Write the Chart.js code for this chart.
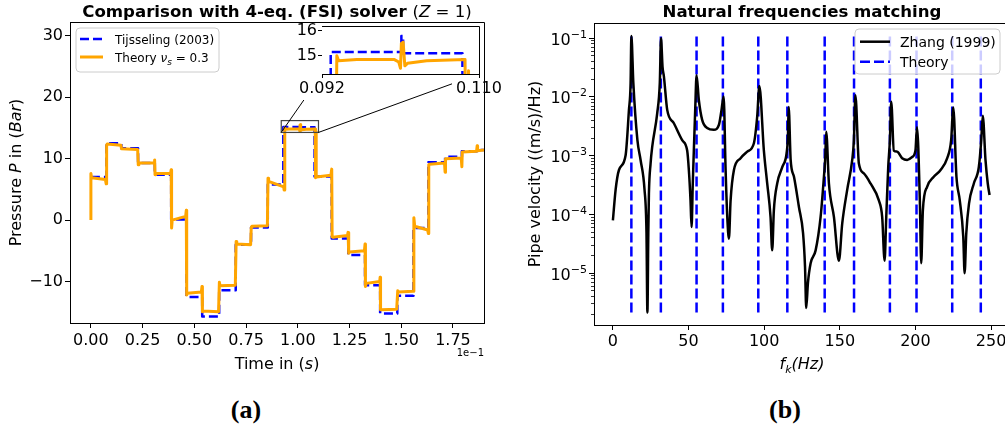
<!DOCTYPE html>
<html>
<head>
<meta charset="utf-8">
<script src="https://cdn.jsdelivr.net/npm/chart.js"></script>
<style>
  body { margin: 0; background: #fff; width: 1005px; height: 430px; overflow: hidden; position: relative; }
  canvas { position: absolute; }
  #pressure { left: 0; top: 0; }
  #zoomed { left: 280px; top: 0; }
  #velocity { left: 500px; top: 0; }
  .cap { position: absolute; top: 395px; width: 100px; text-align: center; line-height: 26px;
         font: bold 26px "Liberation Serif"; color: #000; }
</style>
</head>
<body>
<canvas id="pressure" width="500" height="380"></canvas>
<canvas id="velocity" width="520" height="380"></canvas>
<canvas id="zoomed" width="230" height="110"></canvas>
<div class="cap" style="left:196px">(a)</div>
<div class="cap" style="left:735px">(b)</div>
<script>
// ---- (a) pressure history, time in s ----
const tijTime = [0, 0.0075, 0.0147, 0.0228, 0.0309, 0.0388, 0.0462, 0.0538, 0.0620,
  0.0700, 0.0774, 0.0855, 0.0930, 0.1011, 0.1013, 0.1081, 0.1164, 0.1244, 0.1325,
  0.1398, 0.1481, 0.1559, 0.1631, 0.1712, 0.1793, 0.1866];
const tijP = [7.0, 12.5, 11.7, 9.3, 7.4, 0.1, -12.5, -15.7, -11.4,
  -4.0, -1.2, 5.8, 15.15, 15.8, 15.1, 7.1, -3.0, -5.7, -10.6,
  -15.2, -12.3, -1.3, 9.4, 10.3, 11.2, 11.4];
const tijEnd = 0.19;

const theoryT = [
  0.0000, 0.0000, 0.0003, 0.0070, 0.0074, 0.0076, 0.0079, 0.0145,
  0.0148, 0.0226, 0.0229, 0.0232, 0.0306, 0.0308, 0.0310, 0.0313,
  0.0385, 0.0388, 0.0390, 0.0393, 0.0458, 0.0461, 0.0463, 0.0466,
  0.0534, 0.0537, 0.0539, 0.0542, 0.0617, 0.0621, 0.0624, 0.0698,
  0.0702, 0.0705, 0.0772, 0.0775, 0.0778, 0.0853, 0.0856, 0.0859,
  0.0932, 0.0934, 0.0937, 0.0939, 0.0960, 0.1003, 0.1008, 0.1010,
  0.1011, 0.1013, 0.1015, 0.1018, 0.1040, 0.1084, 0.1086, 0.1088,
  0.1089, 0.1160, 0.1164, 0.1166, 0.1170, 0.1240, 0.1243, 0.1246,
  0.1250, 0.1322, 0.1325, 0.1327, 0.1330, 0.1396, 0.1398, 0.1400,
  0.1403, 0.1478, 0.1483, 0.1486, 0.1557, 0.1561, 0.1565, 0.1628,
  0.1631, 0.1633, 0.1637, 0.1709, 0.1712, 0.1714, 0.1717, 0.1790,
  0.1793, 0.1795, 0.1864, 0.1867, 0.1869, 0.1900];
const theoryP = [
  0.0, 7.6, 6.9, 6.6, 5.9, 12.2, 12.4, 12.2,
  11.6, 11.5, 9.0, 9.3, 9.3, 9.8, 7.4, 7.6,
  7.6, 8.2, -1.3, 0.0, 0.6, 1.6, -12.2, -11.9,
  -11.7, -10.8, -14.9, -14.8, -14.9, -10.1, -10.7, -10.6,
  -3.5, -3.9, -4.0, -1.2, -1.0, -0.9, 6.8, 6.3,
  5.4, 4.9, 15.0, 14.8, 14.85, 14.85, 14.75, 14.5,
  15.5, 15.55, 14.6, 14.7, 14.8, 14.85, 6.9, 14.4,
  7.0, 7.3, 8.3, -2.7, -2.8, -2.5, -2.0, -5.4,
  -5.2, -5.0, -3.9, -10.8, -10.3, -10.0, -9.3, -14.6,
  -14.6, -14.5, -11.5, -11.7, -11.6, 0.4, -1.0, -1.6,
  -2.2, 9.0, 9.1, 9.3, 7.8, 10.0, 10.0, 10.1,
  8.7, 11.1, 11.2, 12.1, 11.3, 11.4];

const timeTicks = [0, 0.025, 0.05, 0.075, 0.1, 0.125, 0.15, 0.175];
const pressTicks = [-10, 0, 10, 20, 30];
const zoomTimes = [0.092, 0.110];
const zoomPress = [15, 16];

// ---- (b) frequency response ----
const zhangFreq = [
  0, 1.8, 4.0, 8.4, 10.6, 11.7, 12.2,
  13.5, 16.2, 18.3, 20.9, 22.2, 22.8, 23.4, 23.8, 24.9, 26.0, 29.3, 31.0, 31.8,
  32.8, 33.7, 35.9, 40.3, 45.8, 49.1, 50.2, 51.3, 52.0, 52.8, 53.5, 54.4, 55.3,
  56.8, 59.0, 62.3, 66.7, 70.1, 71.8, 73.2,
  74.5, 75.6, 76.7, 77.8, 80.0, 84.4, 88.8, 93.2, 95.4, 96.8,
  99.8, 102.0, 104.2, 105.3, 106.4, 108.6, 112.0, 114.8, 115.7, 116.2,
  117.5, 119.7, 123.0, 125.7, 127.0, 127.8, 128.9, 130.7, 134.0, 137.3, 139.5, 140.4, 141.0,
  142.8, 146.1, 149.4, 151.6, 154.9, 158.2, 159.3, 160.3,
  162.6, 165.9, 170.3, 175.8, 178.0, 179.6, 180.7, 182.0, 183.1, 184.0,
  185.7, 187.9, 191.2, 194.5, 197.8, 200.0, 201.0,
  202.9, 203.8, 204.9, 207.7, 212.1, 216.6, 221.0, 223.6, 225.0,
  227.1, 229.3, 231.6, 232.5, 233.6, 235.4, 238.6, 241.9, 243.5, 244.5,
  246.3, 247.8, 249.0];
const zhangVel = [
  7.8e-5, 2.6e-4, 5.6e-4, 1.0e-3, 5.9e-3, 1.7e-2, 1.07e-1,
  1.7e-2, 1.8e-3, 8.3e-4, 2.6e-4, 4.7e-5, 2.1e-6, 4.7e-5, 2.2e-4, 7.2e-4, 1.4e-3, 5.2e-3, 1.7e-2, 9.8e-2,
  3.2e-2, 2.2e-2, 5.9e-3, 3.5e-3, 1.8e-3, 1.2e-3, 5.6e-4, 1.7e-4, 6.0e-5, 3.3e-4, 1.2e-3, 5.9e-3, 2.3e-2,
  8.7e-3, 4.0e-3, 2.9e-3, 2.7e-3, 3.3e-3, 5.9e-3, 1.0e-2,
  5.6e-4, 8.9e-5, 3.8e-5, 1.7e-4, 5.6e-4, 8.9e-4, 1.15e-3, 1.6e-3, 4.6e-3, 1.5e-2,
  1.2e-3, 3.3e-4, 8.9e-5, 2.4e-5, 1.15e-4, 3.3e-4, 6.3e-4, 1.07e-3, 2.1e-3, 6.6e-3,
  8.3e-4, 4.3e-4, 1.3e-4, 4.7e-5, 1.26e-5, 2.5e-6, 6.6e-6, 1.45e-5, 2.4e-5, 8.9e-5, 4.3e-4, 9.3e-4, 2.5e-3,
  3.3e-4, 8.9e-5, 1.6e-5, 6.9e-5, 2.6e-4, 8.3e-4, 1.8e-3, 1.05e-2,
  7.2e-4, 4.9e-4, 3.3e-4, 1.7e-4, 8.9e-5, 1.6e-5, 8.9e-5, 6.3e-4, 1.8e-3, 8.1e-3,
  1.2e-3, 1.15e-3, 8.9e-4, 8.3e-4, 9.3e-4, 1.2e-3, 3.0e-3,
  1.7e-4, 1.45e-5, 1.15e-4, 2.9e-4, 4.3e-4, 5.6e-4, 8.9e-4, 1.8e-3, 6.5e-3,
  4.3e-4, 1.7e-4, 4.1e-5, 9.8e-6, 4.7e-5, 1.5e-4, 3.3e-4, 6.3e-4, 1.8e-3, 4.7e-3,
  8.3e-4, 3.3e-4, 2.1e-4];
const theoryFreq = [12.2, 31.7, 55.3, 72.7, 96.1, 115.3, 140.0, 159.4, 183.1, 200.7, 224.3, 243.2];
const freqTicks = [0, 50, 100, 150, 200, 250];

const FAM = "'DejaVu Sans'";
const f = (s, st) => (st ? st + ' ' : '') + s + 'px ' + FAM;

// draw text made of several font runs
function rich(ctx, parts, x, y, align) {
  let w = 0;
  parts.forEach(p => { ctx.font = p[1]; w += ctx.measureText(p[0]).width; });
  let cx = align === 'center' ? x - w / 2 : align === 'right' ? x - w : x;
  ctx.textAlign = 'left';
  ctx.textBaseline = 'alphabetic';
  parts.forEach(p => {
    ctx.font = p[1];
    ctx.fillText(p[0], cx, y + (p[2] || 0));
    cx += ctx.measureText(p[0]).width;
  });
}
function vrich(ctx, parts, x, y) {
  ctx.save();
  ctx.translate(x, y);
  ctx.rotate(-Math.PI / 2);
  rich(ctx, parts, 0, 0, 'center');
  ctx.restore();
}
function frame(ctx, a) {
  ctx.save();
  ctx.strokeStyle = '#000';
  ctx.lineWidth = 1;
  ctx.beginPath();
  ctx.moveTo(Math.round(a.left), Math.round(a.top) + 0.5);
  ctx.lineTo(Math.round(a.right) + 0.5, Math.round(a.top) + 0.5);
  ctx.lineTo(Math.round(a.right) + 0.5, Math.round(a.bottom));
  ctx.stroke();
  ctx.restore();
}
function legend(ctx, box, rows) {
  ctx.save();
  const [x0, y0, x1, y1] = box, r = 4;
  ctx.beginPath();
  ctx.moveTo(x0 + r, y0);
  ctx.arcTo(x1, y0, x1, y1, r);
  ctx.arcTo(x1, y1, x0, y1, r);
  ctx.arcTo(x0, y1, x0, y0, r);
  ctx.arcTo(x0, y0, x1, y0, r);
  ctx.closePath();
  ctx.fillStyle = 'rgba(255,255,255,0.8)';
  ctx.fill();
  ctx.strokeStyle = '#cccccc';
  ctx.lineWidth = 1;
  ctx.stroke();
  rows.forEach(row => {
    ctx.beginPath();
    ctx.setLineDash(row.dash || []);
    ctx.strokeStyle = row.color;
    ctx.lineWidth = row.width;
    ctx.moveTo(row.x0, row.y);
    ctx.lineTo(row.x1, row.y);
    ctx.stroke();
    ctx.setLineDash([]);
    ctx.fillStyle = '#000';
    rich(ctx, row.text, row.tx, row.y + 5, 'left');
  });
  ctx.restore();
}

function stepPoints(times, levels, end) {
  const pts = [];
  for (let i = 0; i < times.length; i++) {
    if (i > 0) pts.push({ x: times[i], y: levels[i - 1] });
    pts.push({ x: times[i], y: levels[i] });
  }
  pts.push({ x: end, y: levels[levels.length - 1] });
  return pts;
}

function pressureSets() {
  return [
    { data: theoryT.map((t, i) => ({ x: t, y: theoryP[i] })), borderColor: '#ffa500',
      borderWidth: 3, pointRadius: 0, tension: 0, borderJoinStyle: 'round' },
    { data: stepPoints(tijTime, tijP, tijEnd), borderColor: '#0000ff', borderWidth: 2.5,
      borderDash: [9, 4], pointRadius: 0, tension: 0, borderJoinStyle: 'round' },
  ];
}

function axisLin(min, max, ticks, fmt, size, fontSize, tickLen, pad, vertical) {
  return {
    type: 'linear', min: min, max: max,
    afterBuildTicks: s => { s.ticks = ticks.map(v => ({ value: v })); },
    afterFit: s => { if (vertical) s.width = size; else s.height = size; },
    ticks: { font: { family: 'DejaVu Sans', size: fontSize }, color: '#000', padding: pad,
      maxRotation: 0, autoSkip: false, callback: fmt },
    grid: { display: true, drawOnChartArea: false, drawTicks: true, tickLength: tickLen,
      color: '#000', tickWidth: 1 },
    border: { display: true, color: '#000', width: 1 },
  };
}
const minus = v => (v < 0 ? '\u2212' + Math.abs(v) : String(v));

const baseOpts = {
  responsive: false, animation: false, events: [], devicePixelRatio: 1,
  plugins: { legend: { display: false }, tooltip: { enabled: false } },
};

// main pressure panel
new Chart(document.getElementById('pressure'), {
  type: 'line',
  data: { datasets: pressureSets() },
  options: Object.assign({}, baseOpts, {
    layout: { padding: { top: 22, right: 16, left: 0, bottom: 0 } },
    scales: {
      x: axisLin(-0.0101, 0.19, timeTicks, v => (v * 10).toFixed(2), 57, 16, 5, 3, false),
      y: axisLin(-16.75, 32.25, pressTicks, minus, 70, 16, 5, 2, true),
    },
  }),
  plugins: [{
    id: 'decorA',
    afterDatasetsDraw(chart) {
      const ctx = chart.ctx, xs = chart.scales.x, ys = chart.scales.y;
      // zoom window and connectors
      const x1 = xs.getPixelForValue(zoomTimes[0]), x2 = xs.getPixelForValue(zoomTimes[1]);
      const yTop = ys.getPixelForValue(16.2), yBot = ys.getPixelForValue(14.27);
      ctx.save();
      ctx.strokeStyle = '#444';
      ctx.lineWidth = 1.2;
      ctx.strokeRect(x1, yTop, x2 - x1, yBot - yTop);
      ctx.strokeStyle = '#000';
      ctx.lineWidth = 1;
      let s = (yBot - 100) / (yBot - 74);
      ctx.beginPath();
      ctx.moveTo(x1, yBot);
      ctx.lineTo(x1 + s * (322 - x1), 100);
      s = (452 - x2) / (479 - x2);
      ctx.moveTo(x2, yBot);
      ctx.lineTo(452, yBot + s * (74 - yBot));
      ctx.stroke();
      ctx.restore();
    },
    afterDraw(chart) {
      const ctx = chart.ctx, a = chart.chartArea;
      frame(ctx, a);
      ctx.fillStyle = '#000';
      const cx = (a.left + a.right) / 2;
      rich(ctx, [['Comparison with 4-eq. (FSI) solver ', f(16.6, 'bold')], ['(', f(16.6)],
        ['Z', f(16.6, 'italic')], [' = 1)', f(16.6)]], cx, 17, 'center');
      rich(ctx, [['Time in (', f(16)], ['s', f(16, 'italic')], [')', f(16)]], cx, 369, 'center');
      vrich(ctx, [['Pressure ', f(16)], ['P', f(16, 'italic')], [' in (', f(16)],
        ['Bar', f(16, 'italic')], [')', f(16)]], 21, (a.top + a.bottom) / 2);
      rich(ctx, [['1e\u22121', f(10)]], a.right, 356, 'right');
      legend(ctx, [76, 28, 219, 72], [
        { color: '#0000ff', width: 2.5, dash: [9, 4], x0: 80, x1: 103, y: 39, tx: 115,
          text: [['Tijsseling (2003)', f(12)]] },
        { color: '#ffa500', width: 3, x0: 80, x1: 103, y: 57, tx: 115,
          text: [['Theory ', f(12)], ['\u03bd', f(12, 'italic')], ['s', f(9, 'italic'), 3],
            [' = 0.3', f(12)]] },
      ]);
    },
  }],
});

// inset zoom on the plateau
new Chart(document.getElementById('zoomed'), {
  type: 'line',
  data: { datasets: pressureSets() },
  options: Object.assign({}, baseOpts, {
    layout: { padding: { top: 26, right: 31, left: 0, bottom: 0 } },
    scales: {
      x: axisLin(zoomTimes[0], zoomTimes[1], zoomTimes, v => v.toFixed(3), 36, 16, 4, 1, false),
      y: axisLin(14.27, 16.2, zoomPress, v => String(v), 42, 16, 4, 1, true),
    },
  }),
  plugins: [{
    id: 'decorInset',
    beforeDatasetsDraw(chart) {
      const a = chart.chartArea;
      chart.ctx.fillStyle = '#fff';
      chart.ctx.fillRect(a.left, a.top, a.right - a.left, a.bottom - a.top);
    },
    afterDraw(chart) { frame(chart.ctx, chart.chartArea); },
  }],
});

// natural frequencies panel
const vMin = Math.min(...zhangVel), vMax = Math.max(...zhangVel);
const theoryLines = [];
theoryFreq.forEach(fk => {
  theoryLines.push({ x: fk, y: vMin }, { x: fk, y: vMax }, { x: fk, y: null });
});

new Chart(document.getElementById('velocity'), {
  type: 'line',
  data: {
    datasets: [
      { data: zhangFreq.map((fk, i) => ({ x: fk, y: zhangVel[i] })), borderColor: '#000',
        borderWidth: 2.5, pointRadius: 0, cubicInterpolationMode: 'monotone',
        borderJoinStyle: 'round' },
      { data: theoryLines, borderColor: '#0000ff', borderWidth: 2.5, borderDash: [10, 4],
        pointRadius: 0, spanGaps: false, tension: 0 },
    ],
  },
  options: Object.assign({}, baseOpts, {
    layout: { padding: { top: 23, right: 10, left: 0, bottom: 0 } },
    scales: {
      x: axisLin(-12.5, 262.5, freqTicks, v => String(v), 55, 16, 5, 2, false),
      y: {
        type: 'logarithmic', min: Math.pow(10, -5.89), max: Math.pow(10, -0.75),
        afterFit: s => { s.width = 94; },
        ticks: { display: false },
        grid: { display: false },
        border: { display: true, color: '#000', width: 1 },
      },
    },
  }),
  plugins: [{
    id: 'decorB',
    afterDraw(chart) {
      const ctx = chart.ctx, a = chart.chartArea, ys = chart.scales.y;
      frame(ctx, a);
      ctx.save();
      ctx.strokeStyle = '#000';
      ctx.fillStyle = '#000';
      for (let k = -7; k <= 0; k++) {
        for (let m = 1; m <= 9; m++) {
          const v = m * Math.pow(10, k);
          if (v < ys.min || v > ys.max) continue;
          const py = Math.round(ys.getPixelForValue(v)) + 0.5;
          ctx.lineWidth = m === 1 ? 1 : 0.8;
          ctx.beginPath();
          ctx.moveTo(a.left, py);
          ctx.lineTo(a.left - (m === 1 ? 5 : 3), py);
          ctx.stroke();
          if (m === 1) {
            const sup = '\u2212' + (-k);
            ctx.font = f(11);
            const sw = ctx.measureText(sup).width;
            ctx.font = f(16);
            const mw = ctx.measureText('10').width;
            const x0 = a.left - 7 - sw - mw;
            rich(ctx, [['10', f(16)]], x0, py + 6, 'left');
            rich(ctx, [[sup, f(11)]], x0 + mw, py - 1, 'left');
          }
        }
      }
      ctx.restore();
      const cx = (a.left + a.right) / 2;
      ctx.fillStyle = '#000';
      rich(ctx, [['Natural frequencies matching', f(16.6, 'bold')]], cx, 17, 'center');
      rich(ctx, [['f', f(16, 'italic')], ['k', f(11, 'italic'), 4], ['(Hz)', f(16, 'italic')]],
        cx, 369, 'center');
      vrich(ctx, [['Pipe velocity ((m/s)/Hz)', f(16)]], 40, (a.top + a.bottom) / 2);
      legend(ctx, [355, 29, 500, 74], [
        { color: '#000', width: 2.5, x0: 360, x1: 390, y: 41.7, tx: 400,
          text: [['Zhang (1999)', f(14)]] },
        { color: '#0000ff', width: 2.5, dash: [10, 4], x0: 360, x1: 390, y: 61.7, tx: 400,
          text: [['Theory', f(14)]] },
      ]);
    },
  }],
});
</script>
</body>
</html>
